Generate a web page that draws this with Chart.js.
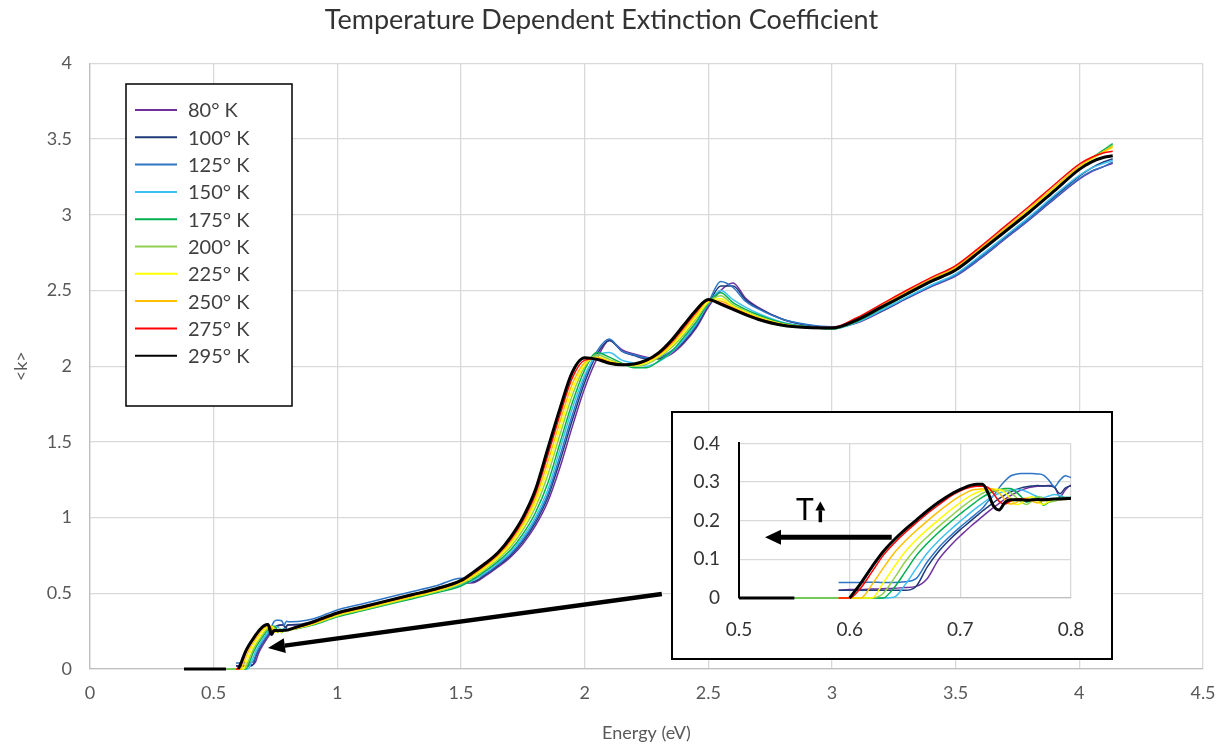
<!DOCTYPE html>
<html>
<head>
<meta charset="utf-8">
<title>Temperature Dependent Extinction Coefficient</title>
<script src="https://cdn.jsdelivr.net/npm/chart.js@4.4.1/dist/chart.umd.min.js"></script>
<style>
  html, body { margin: 0; padding: 0; background: #fff; }
  #wrap { position: relative; width: 1230px; height: 747px; }
  #mainChart { position: absolute; left: 0; top: 0; }
  #insetBox { position: absolute; left: 671px; top: 411px; width: 438px; height: 245px;
              border: 2px solid #000; background: #fff; }
</style>
</head>
<body>
<div id="wrap">
  <canvas id="mainChart" width="1230" height="747"></canvas>
  <div id="insetBox"><canvas id="insetChart" width="438" height="245"></canvas></div>
</div>
<script>
// Energy grid (eV), shared by all series
const energy = [
  0.38, 0.45, 0.50, 0.55, 0.56, 0.57, 0.58, 0.59,
  0.60, 0.61, 0.62, 0.63, 0.64, 0.65, 0.66, 0.67, 0.68, 0.69, 0.70,
  0.705, 0.71, 0.715, 0.72, 0.725, 0.73, 0.735, 0.74, 0.745, 0.75,
  0.755, 0.76, 0.765, 0.77, 0.775, 0.78, 0.785, 0.79, 0.795, 0.80,
  0.85, 0.90, 1.00, 1.10, 1.20, 1.30, 1.40, 1.50,
  1.55, 1.60, 1.65, 1.70, 1.75, 1.80, 1.85, 1.90, 1.95, 2.00, 2.05, 2.10,
  2.15, 2.20, 2.25, 2.30, 2.35, 2.40, 2.45, 2.50, 2.55, 2.60, 2.65, 2.70,
  2.80, 2.90, 3.00, 3.10, 3.20, 3.30, 3.40, 3.50, 3.60, 3.70, 3.80, 3.90,
  4.00, 4.05, 4.10, 4.135
];

// <k> per temperature
const k80 = [
  null, null, null, null, null, null, null, 0.020,
  0.022, 0.022, 0.023, 0.024, 0.025, 0.027, 0.030, 0.050, 0.098, 0.132, 0.161,
  0.174, 0.187, 0.199, 0.211, 0.223, 0.234, 0.245, 0.255, 0.264, 0.272,
  0.279, 0.284, 0.287, 0.289, 0.290, 0.291, 0.288, 0.262, 0.280, 0.292,
  0.290, 0.305, 0.360, 0.400, 0.440, 0.480, 0.520, 0.565,
  0.570, 0.616, 0.674, 0.739, 0.826, 0.943, 1.101, 1.331, 1.601, 1.854, 2.050, 2.170,
  2.110, 2.080, 2.060, 2.050, 2.080, 2.150, 2.250, 2.390, 2.500, 2.550, 2.450, 2.390,
  2.310, 2.270, 2.255, 2.285, 2.360, 2.445, 2.525, 2.595, 2.710, 2.840, 2.970, 3.105,
  3.235, 3.285, 3.320, 3.340
];
const k100 = [
  null, null, null, null, null, null, null, 0.020,
  0.020, 0.020, 0.020, 0.020, 0.020, 0.020, 0.030, 0.080, 0.119, 0.150, 0.177,
  0.189, 0.201, 0.213, 0.225, 0.236, 0.247, 0.257, 0.266, 0.274, 0.280,
  0.285, 0.288, 0.290, 0.291, 0.290, 0.290, 0.286, 0.270, 0.285, 0.290,
  0.295, 0.315, 0.370, 0.410, 0.450, 0.490, 0.530, 0.575,
  0.577, 0.625, 0.683, 0.750, 0.842, 0.964, 1.130, 1.374, 1.644, 1.893, 2.080, 2.170,
  2.100, 2.070, 2.050, 2.050, 2.090, 2.160, 2.260, 2.405, 2.530, 2.530, 2.440, 2.385,
  2.310, 2.270, 2.255, 2.290, 2.365, 2.450, 2.530, 2.605, 2.720, 2.850, 2.980, 3.120,
  3.255, 3.310, 3.350, 3.370
];
const k125 = [
  null, null, null, null, null, null, null, 0.040,
  0.040, 0.040, 0.041, 0.040, 0.040, 0.042, 0.050, 0.093, 0.129, 0.158, 0.184,
  0.196, 0.208, 0.220, 0.232, 0.250, 0.265, 0.285, 0.302, 0.315, 0.320,
  0.322, 0.322, 0.322, 0.321, 0.318, 0.305, 0.288, 0.305, 0.316, 0.312,
  0.315, 0.330, 0.390, 0.430, 0.470, 0.510, 0.550, 0.600,
  0.600, 0.631, 0.690, 0.759, 0.854, 0.980, 1.150, 1.407, 1.677, 1.920, 2.100, 2.180,
  2.100, 2.075, 2.055, 2.060, 2.100, 2.170, 2.270, 2.420, 2.560, 2.520, 2.430, 2.380,
  2.310, 2.275, 2.260, 2.290, 2.365, 2.450, 2.530, 2.600, 2.715, 2.845, 2.975, 3.110,
  3.240, 3.290, 3.320, 3.350
];
const k150 = [
  null, 0, 0, 0, 0, 0, 0, 0,
  0, 0, 0, 0, 0.002, 0.034, 0.076, 0.116, 0.147, 0.174, 0.199,
  0.211, 0.223, 0.234, 0.245, 0.255, 0.264, 0.271, 0.276, 0.279, 0.281,
  0.280, 0.275, 0.268, 0.262, 0.260, 0.264, 0.268, 0.265, 0.260, 0.260,
  0.280, 0.300, 0.355, 0.395, 0.435, 0.475, 0.515, 0.555,
  0.585, 0.640, 0.700, 0.770, 0.870, 1.000, 1.180, 1.450, 1.720, 1.940, 2.070, 2.090,
  2.040, 2.020, 2.000, 2.030, 2.090, 2.175, 2.280, 2.410, 2.500, 2.440, 2.390, 2.350,
  2.290, 2.262, 2.245, 2.290, 2.370, 2.455, 2.535, 2.610, 2.730, 2.860, 2.990, 3.130,
  3.260, 3.310, 3.340, 3.360
];
const k175 = [
  null, 0, 0, 0, 0, 0, 0, 0,
  0, 0, 0, 0, 0.026, 0.067, 0.109, 0.141, 0.169, 0.194, 0.218,
  0.229, 0.240, 0.251, 0.261, 0.269, 0.276, 0.280, 0.283, 0.283, 0.275,
  0.262, 0.248, 0.255, 0.262, 0.240, 0.248, 0.256, 0.260, 0.260, 0.260,
  0.270, 0.290, 0.345, 0.385, 0.425, 0.463, 0.503, 0.548,
  0.594, 0.650, 0.711, 0.786, 0.891, 1.029, 1.223, 1.493, 1.758, 1.975, 2.090, 2.060,
  2.020, 1.990, 1.990, 2.035, 2.095, 2.190, 2.290, 2.415, 2.485, 2.420, 2.375, 2.340,
  2.285, 2.260, 2.245, 2.295, 2.380, 2.470, 2.555, 2.635, 2.760, 2.890, 3.025, 3.165,
  3.310, 3.375, 3.430, 3.470
];
const k200 = [
  null, 0, 0, 0, 0, 0, 0, 0,
  0, 0, 0, 0.011, 0.050, 0.093, 0.129, 0.158, 0.184, 0.208, 0.232,
  0.243, 0.253, 0.262, 0.271, 0.276, 0.279, 0.281, 0.280, 0.274, 0.262,
  0.248, 0.242, 0.252, 0.262, 0.258, 0.248, 0.250, 0.256, 0.258, 0.258,
  0.272, 0.293, 0.350, 0.390, 0.430, 0.470, 0.510, 0.562,
  0.605, 0.662, 0.725, 0.806, 0.917, 1.065, 1.277, 1.547, 1.806, 1.995, 2.075, 2.045,
  2.015, 2.000, 2.012, 2.058, 2.120, 2.206, 2.310, 2.420, 2.465, 2.405, 2.365, 2.330,
  2.280, 2.258, 2.248, 2.300, 2.385, 2.475, 2.560, 2.640, 2.765, 2.895, 3.030, 3.170,
  3.310, 3.370, 3.420, 3.460
];
const k225 = [
  null, null, null, null, null, null, null, 0,
  0, 0, 0, 0.038, 0.080, 0.119, 0.150, 0.177, 0.201, 0.225, 0.247,
  0.257, 0.266, 0.273, 0.278, 0.281, 0.282, 0.281, 0.274, 0.258, 0.242,
  0.245, 0.258, 0.262, 0.250, 0.242, 0.250, 0.257, 0.256, 0.255, 0.256,
  0.275, 0.297, 0.355, 0.395, 0.435, 0.475, 0.515, 0.570,
  0.614, 0.671, 0.736, 0.822, 0.938, 1.094, 1.320, 1.590, 1.845, 2.010, 2.060, 2.035,
  2.015, 2.005, 2.022, 2.066, 2.132, 2.222, 2.325, 2.425, 2.445, 2.395, 2.358, 2.325,
  2.278, 2.257, 2.250, 2.310, 2.395, 2.485, 2.570, 2.650, 2.775, 2.905, 3.040, 3.180,
  3.315, 3.370, 3.415, 3.445
];
const k250 = [
  null, null, null, null, null, null, null, 0,
  0, 0, 0.034, 0.076, 0.116, 0.147, 0.174, 0.199, 0.223, 0.245, 0.264,
  0.272, 0.279, 0.281, 0.282, 0.283, 0.281, 0.272, 0.255, 0.243, 0.246,
  0.256, 0.258, 0.250, 0.246, 0.252, 0.257, 0.256, 0.255, 0.256, 0.257,
  0.277, 0.300, 0.360, 0.400, 0.440, 0.480, 0.520, 0.575,
  0.622, 0.681, 0.748, 0.838, 0.958, 1.122, 1.364, 1.634, 1.883, 2.025, 2.055, 2.030,
  2.012, 2.010, 2.030, 2.074, 2.144, 2.238, 2.340, 2.430, 2.430, 2.388, 2.352, 2.320,
  2.275, 2.255, 2.252, 2.315, 2.400, 2.490, 2.575, 2.655, 2.780, 2.910, 3.045, 3.185,
  3.320, 3.375, 3.420, 3.450
];
const k275 = [
  null, null, null, null, null, null, null, 0,
  0, 0.026, 0.067, 0.109, 0.141, 0.169, 0.194, 0.218, 0.240, 0.261, 0.277,
  0.283, 0.287, 0.289, 0.289, 0.286, 0.270, 0.250, 0.243, 0.250, 0.256,
  0.257, 0.255, 0.253, 0.255, 0.256, 0.256, 0.257, 0.257, 0.258, 0.259,
  0.280, 0.305, 0.365, 0.405, 0.445, 0.485, 0.525, 0.580,
  0.631, 0.690, 0.759, 0.854, 0.979, 1.151, 1.407, 1.677, 1.922, 2.040, 2.050, 2.024,
  2.012, 2.013, 2.036, 2.082, 2.157, 2.254, 2.355, 2.435, 2.418, 2.381, 2.346, 2.315,
  2.272, 2.255, 2.255, 2.320, 2.410, 2.500, 2.585, 2.665, 2.790, 2.925, 3.060, 3.200,
  3.335, 3.380, 3.410, 3.420
];
const k295 = [
  0, 0, 0, 0, null, null, null, null,
  0, 0.038, 0.080, 0.119, 0.150, 0.177, 0.201, 0.225, 0.247, 0.266, 0.281,
  0.287, 0.292, 0.294, 0.294, 0.272, 0.238, 0.228, 0.246, 0.254, 0.254,
  0.254, 0.253, 0.254, 0.255, 0.254, 0.255, 0.256, 0.256, 0.257, 0.258,
  0.285, 0.310, 0.370, 0.410, 0.450, 0.490, 0.530, 0.585,
  0.640, 0.700, 0.770, 0.870, 1.000, 1.180, 1.450, 1.720, 1.960, 2.055, 2.045, 2.020,
  2.010, 2.015, 2.040, 2.090, 2.170, 2.270, 2.370, 2.440, 2.410, 2.375, 2.340, 2.310,
  2.270, 2.255, 2.252, 2.305, 2.390, 2.475, 2.560, 2.635, 2.760, 2.890, 3.020, 3.160,
  3.300, 3.350, 3.380, 3.390
];

const temps = ['80° K', '100° K', '125° K', '150° K', '175° K', '200° K', '225° K', '250° K', '275° K', '295° K'];
const series = [k80, k100, k125, k150, k175, k200, k225, k250, k275, k295];
const colors = ['#7030a0', '#1f3a78', '#2e75c6', '#3ec0f0', '#00b050', '#92d050', '#ffff00', '#ffc000', '#ff0000', '#000000'];

// Annotation positions, in data units of each chart
const mainArrow = { x1: 2.312, y1: 0.496, x2: 0.7195, y2: 0.139 };
const insetArrow = { x1: 0.638, y1: 0.157, x2: 0.5235, y2: 0.157 };
const insetLabel = { x: 0.5596, y: 0.228, arrowX: 0.5735, arrowY1: 0.196, arrowY2: 0.25 };

const FONT = 'Lato, "Open Sans", sans-serif';
const GRID = '#d9d9d9';

function makeDatasets(clip) {
  return series.map((vals, i) => ({
    label: temps[i],
    data: energy.map((e, j) => ({ x: e, y: vals[j] })),
    borderColor: colors[i],
    backgroundColor: colors[i],
    borderWidth: i === series.length - 1 ? 3 : 1.5,
    pointRadius: 0,
    fill: false,
    clip: clip,
    cubicInterpolationMode: 'monotone',
    order: series.length - i   // black drawn last, on top
  }));
}

function drawArrow(ctx, x1, y1, x2, y2, width, headLen, headWidth) {
  const ang = Math.atan2(y2 - y1, x2 - x1);
  const bx = x2 - headLen * Math.cos(ang);
  const by = y2 - headLen * Math.sin(ang);
  ctx.save();
  ctx.strokeStyle = '#000';
  ctx.fillStyle = '#000';
  ctx.lineWidth = width;
  ctx.beginPath();
  ctx.moveTo(x1, y1);
  ctx.lineTo(bx, by);
  ctx.stroke();
  ctx.beginPath();
  ctx.moveTo(x2, y2);
  ctx.lineTo(bx + headWidth / 2 * Math.sin(ang), by - headWidth / 2 * Math.cos(ang));
  ctx.lineTo(bx - headWidth / 2 * Math.sin(ang), by + headWidth / 2 * Math.cos(ang));
  ctx.closePath();
  ctx.fill();
  ctx.restore();
}

// Legend box inside the plot + arrow pointing at the absorption edge
const mainExtras = {
  id: 'mainExtras',
  afterDatasetsDraw(chart) {
    const { ctx, scales: { x, y } } = chart;
    drawArrow(ctx, x.getPixelForValue(mainArrow.x1), y.getPixelForValue(mainArrow.y1),
              x.getPixelForValue(mainArrow.x2), y.getPixelForValue(mainArrow.y2), 4.5, 17, 15);

    const box = { left: 126, top: 84, width: 166, height: 322 };
    ctx.save();
    ctx.fillStyle = '#fff';
    ctx.fillRect(box.left, box.top, box.width, box.height);
    ctx.strokeStyle = '#000';
    ctx.lineWidth = 1.5;
    ctx.strokeRect(box.left, box.top, box.width, box.height);
    ctx.font = '20px ' + FONT;
    ctx.textBaseline = 'middle';
    ctx.textAlign = 'left';
    chart.data.datasets.forEach((ds, i) => {
      const ry = 110 + i * 27.3;
      ctx.strokeStyle = ds.borderColor;
      ctx.lineWidth = 2;
      ctx.beginPath();
      ctx.moveTo(135, ry);
      ctx.lineTo(177, ry);
      ctx.stroke();
      ctx.fillStyle = '#404040';
      ctx.fillText(ds.label, 188, ry + 1);
    });
    ctx.restore();
  }
};

const insetExtras = {
  id: 'insetExtras',
  afterDatasetsDraw(chart) {
    const { ctx, scales: { x, y } } = chart;
    drawArrow(ctx, x.getPixelForValue(insetArrow.x1), y.getPixelForValue(insetArrow.y1),
              x.getPixelForValue(insetArrow.x2), y.getPixelForValue(insetArrow.y2), 5, 16, 15);
    ctx.save();
    ctx.fillStyle = '#000';
    ctx.font = '30px ' + FONT;
    ctx.textAlign = 'center';
    ctx.textBaseline = 'middle';
    ctx.fillText('T', x.getPixelForValue(insetLabel.x), y.getPixelForValue(insetLabel.y));
    ctx.restore();
    const ax = x.getPixelForValue(insetLabel.arrowX);
    drawArrow(ctx, ax, y.getPixelForValue(insetLabel.arrowY1), ax, y.getPixelForValue(insetLabel.arrowY2), 3.5, 9, 10);
  }
};

const fmt1 = v => (Math.round(v * 10) / 10).toString();

new Chart(document.getElementById('mainChart'), {
  type: 'line',
  data: { datasets: makeDatasets(4) },
  options: {
    responsive: false,
    animation: false,
    layout: { padding: { left: 0, right: 27, top: 0, bottom: 0 } },
    plugins: {
      legend: { display: false },
      tooltip: { enabled: false },
      title: {
        display: true,
        text: 'Temperature Dependent Extinction Coefficient',
        color: '#333',
        font: { family: FONT, size: 27, weight: 'normal' },
        padding: { top: 4, bottom: 27 }
      }
    },
    scales: {
      x: {
        type: 'linear',
        min: 0,
        max: 4.5,
        ticks: { stepSize: 0.5, color: '#595959', font: { family: FONT, size: 18 }, padding: 13, maxRotation: 0, callback: fmt1 },
        grid: { color: GRID, lineWidth: 1.3, drawTicks: false },
        border: { color: '#bfbfbf', width: 1.3 },
        title: { display: true, text: 'Energy (eV)', color: '#595959', font: { family: FONT, size: 18 }, padding: { bottom: 3 } },
        afterFit: s => { s.height = 78; }
      },
      y: {
        min: 0,
        max: 4,
        ticks: { stepSize: 0.5, color: '#595959', font: { family: FONT, size: 18 }, padding: 18, callback: fmt1 },
        grid: { color: GRID, lineWidth: 1.3, drawTicks: false },
        border: { color: '#bfbfbf', width: 1.3 },
        title: { display: true, text: '<k>', color: '#595959', font: { family: FONT, size: 18 }, padding: { top: 10 } },
        afterFit: s => { s.width = 90; }
      }
    }
  },
  plugins: [mainExtras]
});

new Chart(document.getElementById('insetChart'), {
  type: 'line',
  data: { datasets: makeDatasets({ left: 0, right: 0, top: 4, bottom: 4 }) },
  options: {
    responsive: false,
    animation: false,
    layout: { padding: { left: 0, right: 40, top: 22, bottom: 0 } },
    plugins: { legend: { display: false }, tooltip: { enabled: false }, title: { display: false } },
    scales: {
      x: {
        type: 'linear',
        min: 0.5,
        max: 0.8,
        ticks: { stepSize: 0.1, color: '#333', font: { family: FONT, size: 19 }, padding: 20, maxRotation: 0, callback: fmt1 },
        grid: { color: GRID, lineWidth: 1.3, drawTicks: false },
        border: { color: '#bfbfbf', width: 1.3 },
        afterFit: s => { s.height = 60; }
      },
      y: {
        min: 0,
        max: 0.4,
        ticks: { stepSize: 0.1, color: '#333', font: { family: FONT, size: 19 }, padding: 19, callback: fmt1 },
        grid: { color: GRID, lineWidth: 1.3, drawTicks: false },
        border: { color: '#000', width: 2 },
        afterFit: s => { s.width = 66; }
      }
    }
  },
  plugins: [insetExtras]
});
</script>
</body>
</html>
